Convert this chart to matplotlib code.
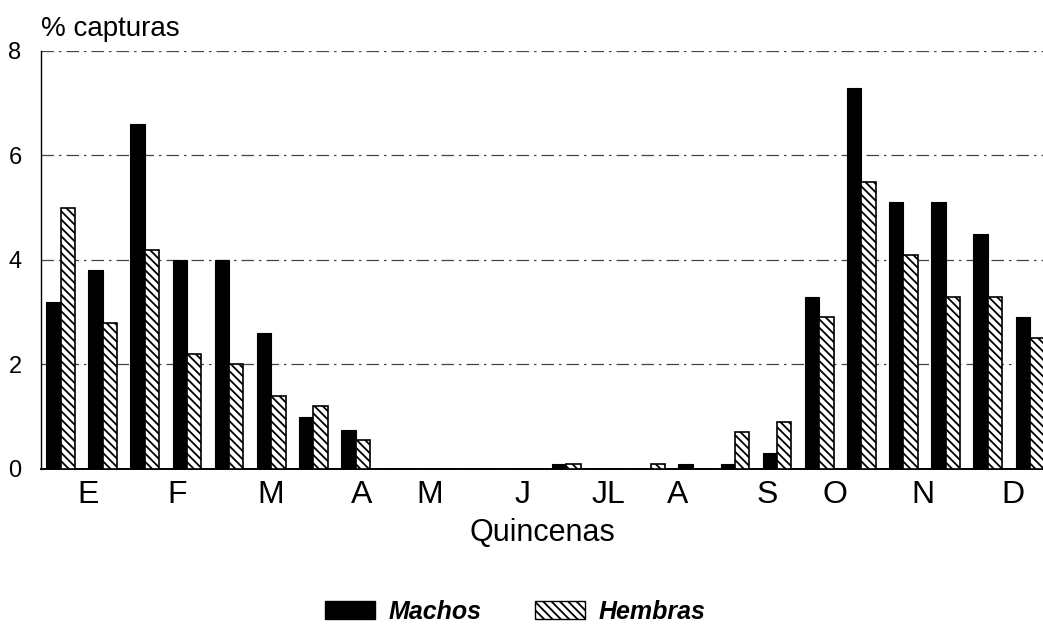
import numpy as np
import matplotlib
matplotlib.use('Agg')
import matplotlib.pyplot as plt
from matplotlib.patches import Patch

plt.rcParams['font.family'] = ['Liberation Sans', 'DejaVu Sans']
plt.rcParams['hatch.linewidth'] = 1.3

# percentage of captures per fortnight (24 quincenas, Jan -> Dec)
machos = [3.2, 3.8, 6.6, 4.0, 4.0, 2.6, 1.0, 0.75, 0, 0, 0, 0,
          0.1, 0, 0, 0.1, 0.1, 0.3, 3.3, 7.3, 5.1, 5.1, 4.5, 2.9]
hembras = [5.0, 2.8, 4.2, 2.2, 2.0, 1.4, 1.2, 0.55, 0, 0, 0, 0,
           0.1, 0, 0.1, 0, 0.7, 0.9, 2.9, 5.5, 4.1, 3.3, 3.3, 2.5]
month_labels = ['E', 'F', 'M', 'A', 'M', 'J', 'JL', 'A', 'S', 'O', 'N', 'D']
month_pos = [0.65, 2.76, 4.99, 7.15, 8.77, 10.97, 12.99, 14.63, 16.76, 18.37, 20.46, 22.6]
y_ticks = [0, 2, 4, 6, 8]

HATCH = '\\' * 4


def main():
    fig = plt.figure(figsize=(10.43, 6.34), dpi=100)
    ax = fig.add_axes([0.0393, 0.2603, 0.9607, 0.6593])

    x = np.arange(len(machos))
    w = 0.34
    ax.bar(x - w / 2, machos, w, color='black', edgecolor='black', linewidth=0.8, zorder=3)
    ax.bar(x + w / 2, hembras, w, color='white', edgecolor='black', hatch=HATCH,
           linewidth=1.2, zorder=3)

    ax.set_xlim(-0.463, 23.31)
    ax.set_ylim(0, 8)
    ax.set_yticks(y_ticks)
    ax.set_yticklabels([str(v) for v in y_ticks], fontsize=17)
    ax.set_xticks(month_pos)
    ax.set_xticklabels(month_labels, fontsize=23)
    ax.tick_params(axis='both', length=0)
    ax.tick_params(axis='y', pad=14)
    ax.tick_params(axis='x', pad=8)

    ax.yaxis.grid(True, color='#444444', linestyle=(0, (10, 4, 2, 4)), linewidth=0.9, zorder=1)
    for side in ['top', 'right']:
        ax.spines[side].set_visible(False)
    ax.spines['left'].set_linewidth(1.0)
    ax.spines['bottom'].set_linewidth(1.4)

    ax.set_xlabel('Quincenas', fontsize=22, labelpad=6)
    fig.text(0.039, 0.955, '% capturas', fontsize=20, ha='left', va='center')

    handles = [Patch(facecolor='black', edgecolor='black', label='Machos'),
               Patch(facecolor='white', edgecolor='black', hatch=HATCH, label='Hembras')]
    fig.legend(handles=handles, loc='center', bbox_to_anchor=(0.494, 0.035), ncol=2,
               frameon=False, handlelength=2.0, handleheight=0.76, handletextpad=0.55,
               columnspacing=2.1, prop={'size': 18, 'weight': 'bold', 'style': 'italic'})

    fig.savefig('out.png', dpi=100)
    plt.close(fig)


if __name__ == '__main__':
    main()
